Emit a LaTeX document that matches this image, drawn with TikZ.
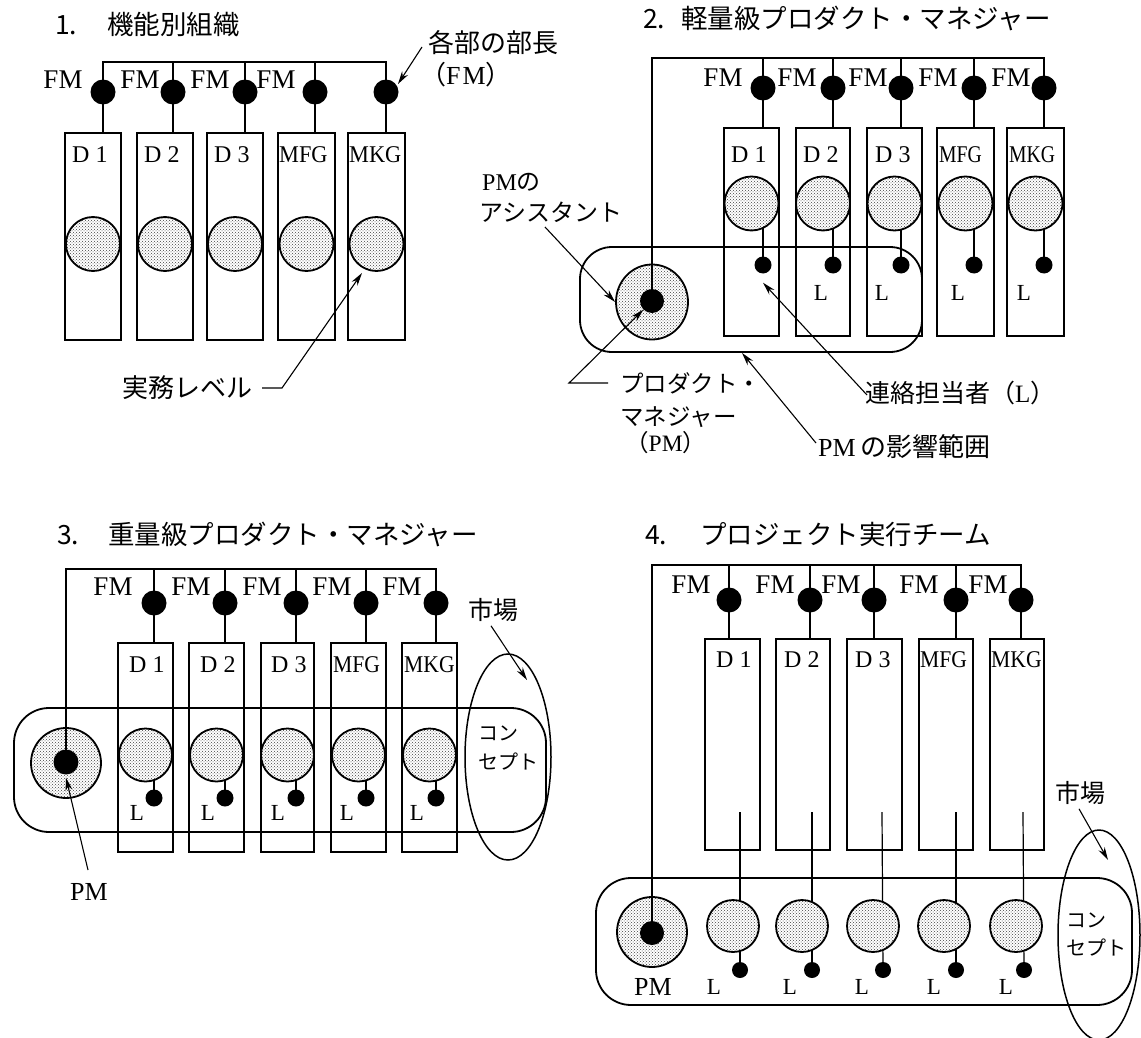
\documentclass[tikz,border=0pt]{standalone}
\usepackage{fontspec}
\usepackage{graphicx}
\setmainfont{Liberation Serif}
\newfontfamily\jp{Noto Sans CJK JP}
\usetikzlibrary{arrows.meta,shapes.geometric,backgrounds,patterns}
\begin{document}
\begin{tikzpicture}[x=1pt,y=-1pt,
  conn/.style={line width=1.2pt},
  bus/.style={line width=1.3pt},
  fmdot/.style={circle, fill=black, draw=none, inner sep=0pt, minimum size=25pt},
  ldot/.style={circle, fill=black, draw=none, inner sep=0pt, minimum size=17pt},
  pmdot/.style={circle, fill=black, draw=none, inner sep=0pt, minimum size=24pt},
  dept/.style={draw, line width=1.8pt, inner sep=0pt},
  work/.style={circle, draw, line width=1.8pt, preaction={fill=white}, pattern=crosshatch dots, pattern color=black!75, inner sep=0pt},
  infl/.style={draw, line width=1.8pt, rounded corners=32pt, inner sep=0pt},
  mkt/.style={ellipse, draw, line width=1.5pt, inner sep=0pt},
  fmlab/.style={font=\fontsize{27}{27}\selectfont, inner sep=0pt},
  dlab/.style={font=\fontsize{24}{24}\selectfont, inner sep=0pt, anchor=west},
  llab/.style={font=\fontsize{23}{23}\selectfont, inner sep=0pt},
  jlab/.style={font=\fontsize{25}{25}\selectfont\jp, inner sep=0pt},
  jsm/.style={font=\fontsize{20}{20}\selectfont\jp, inner sep=0pt, anchor=west},
  ttl/.style={font=\fontsize{26.5}{26.5}\selectfont\jp, inner sep=0pt, anchor=west},
  arr/.style={line width=1.1pt, -{Stealth[length=13pt,width=7pt]}},
]
\begin{pgfonlayer}{background}
  \fill[white] (0,0) rectangle (1141,1038);
\end{pgfonlayer}
\useasboundingbox (0,0) rectangle (1141,1038);

% ================= Panel 1 =================
\node[ttl] (t1) at (55,25) {1.\hspace{30pt}機能別組織};
\foreach \i/\x in {1/103,2/173,3/245,4/315,5/386}{
  \node[fmdot] (p1f\i) at (\x,92) {};
  \coordinate (p1t\i) at (\x,62);
}
\foreach \i/\x/\w in {1/93/56,2/165/56,3/235/56,4/306.5/57,5/376.5/57}{
  \node[dept, minimum width=\w pt, minimum height=207pt] (p1b\i) at (\x,236.5) {};
  \node[work, minimum size=54pt] (p1c\i) at (\x,244) {};
}
\node[dlab] (p1d1) at (72,155) {D 1};
\node[dlab] (p1d2) at (144,155) {D 2};
\node[dlab] (p1d3) at (214,155) {D 3};
\node[dlab] (p1d4) at (279,155) {\scalebox{0.93}[1]{MFG}};
\node[dlab] (p1d5) at (349,155) {\scalebox{0.93}[1]{MKG}};
\foreach \i/\x in {1/63,2/140,3/210,4/276}
  \node[fmlab] (p1fm\i) at (\x,80) {FM};
\draw[bus] (p1f1.center) -- (p1t1) -- (p1t5) -- (p1f5.center);
\foreach \i in {2,3,4} \draw[bus] (p1t\i) -- (p1f\i.center);
\foreach \i in {1,...,5} \draw[conn] (p1f\i.center) -- (p1f\i.center |- p1b\i.north);
\node[jlab, anchor=west, font=\fontsize{26}{26}\selectfont\jp] (p1bu) at (428,43) {各部の部長};
\node[jlab, anchor=west, font=\fontsize{26}{26}\selectfont\jp] (p1bfm) at (420,75) {（{\rmfamily F\kern2pt M}）};
\coordinate (p1a) at (422,47);
\draw[arr] (p1a) -- ([xshift=12pt,yshift=8pt]p1f5.center);
\node[jlab, font=\fontsize{26}{26}\selectfont\jp] (p1jm) at (187,388) {実務レベル};
\coordinate (p1k) at (282,388);
\coordinate (p1kt) at (362,273);
\draw[arr] ([xshift=10pt]p1jm.east) -- (p1k) -- (p1kt);

% ================= Panel 2 =================
\node[ttl] (t2) at (643,18) {2.\hspace{16pt}軽量級プロダクト・マネジャー};
\foreach \i/\x in {1/763,2/833,3/901,4/974,5/1044}{
  \node[fmdot] (p2f\i) at (\x,88) {};
  \coordinate (p2t\i) at (\x,58);
  \node[ldot] (p2s\i) at (\x,265) {};
}
\coordinate (p2t0) at (652,58);
\foreach \i/\x/\w in {1/751.5/55,2/823/54,3/894.5/55,4/965.5/57,5/1035.5/57}{
  \node[dept, minimum width=\w pt, minimum height=208pt] (p2b\i) at (\x,232) {};
  \node[work, minimum size=54pt] (p2c\i) at (\x,203.5) {};
}
\begin{pgfonlayer}{background}
  \foreach \i in {1,...,5} \draw[conn] (p2s\i.center) -- (p2s\i.center |- p2c\i.center);
\end{pgfonlayer}
\node[dlab] (p2d1) at (731,155) {D 1};
\node[dlab] (p2d2) at (803,155) {D 2};
\node[dlab] (p2d3) at (875,155) {D 3};
\node[dlab] (p2d4) at (939,155) {\scalebox{0.82}[1]{MFG}};
\node[dlab] (p2d5) at (1009,155) {\scalebox{0.82}[1]{MKG}};
\foreach \i/\x in {1/723,2/797,3/868,4/938,5/1011}
  \node[fmlab] (p2fm\i) at (\x,78) {FM};
\foreach \i/\x in {2/821,3/882,4/958,5/1024}
  \node[llab] (p2l\i) at (\x,293) {L};
\node[infl, minimum width=342pt, minimum height=105pt] (p2inf) at (751,299.5) {};
\node[work, ellipse, minimum width=72pt, minimum height=75pt] (p2pmc) at (652,302) {};
\node[pmdot] (p2pm) at (652,301) {};
\draw[bus] (p2pm.center) -- (p2t0) -- (p2t5) -- (p2f5.center);
\foreach \i in {1,...,4} \draw[bus] (p2t\i) -- (p2f\i.center);
\foreach \i in {1,...,5} \draw[conn] (p2f\i.center) -- (p2f\i.center |- p2b\i.north);
\node[jlab, anchor=west, font=\fontsize{24}{24}\selectfont\jp] (p2asa) at (482,182) {{\rmfamily PM}の};
\node[jlab, anchor=west, font=\fontsize{24}{24}\selectfont\jp] (p2asb) at (479,212) {アシスタント};
\coordinate (p2asc) at (545,227);
\draw[arr] (p2asc) -- (p2pmc.west);
\node[jlab, anchor=west, font=\fontsize{23.5}{23.5}\selectfont\jp] (p2pl1) at (620,383) {プロダクト・};
\node[jlab, anchor=west, font=\fontsize{23.5}{23.5}\selectfont\jp] (p2pl2) at (620,417) {マネジャー};
\node[jlab, anchor=west, font=\fontsize{23.5}{23.5}\selectfont\jp] (p2pl3) at (625,443) {（{\rmfamily PM}）};
\coordinate (p2q1) at (569,383);
\draw[arr] ([xshift=-12pt]p2pl1.west) -- (p2q1) -- (p2pm.south west);
\node[jlab, anchor=west, font=\fontsize{26}{26}\selectfont\jp] (p2infl) at (818,447) {{\rmfamily PM}\hspace{5pt}の影響範囲};
\draw[arr] ([xshift=-2pt,yshift=4pt]p2infl.west) -- ([xshift=-9pt]p2inf.south);
\node[jlab, anchor=west, font=\fontsize{25}{25}\selectfont\jp] (p2ren) at (865,393) {連絡担当者（{\rmfamily L}）};
\draw[arr] ([xshift=2pt,yshift=-2pt]p2ren.west) -- ([yshift=-9pt]p2s1.south);

% ================= Panel 3 =================
\node[ttl] (t3) at (57,534) {3.\hspace{29pt}重量級プロダクト・マネジャー};
\foreach \i/\x in {1/154,2/225,3/296,4/366,5/436}{
  \node[fmdot] (p3f\i) at (\x,603) {};
  \coordinate (p3t\i) at (\x,569);
  \node[ldot] (p3s\i) at (\x,798) {};
}
\coordinate (p3t0) at (66,569);
\foreach \i/\x/\w in {1/145.5/55,2/216.5/55,3/287.5/53,4/358.5/55,5/429.5/55}{
  \node[dept, minimum width=\w pt, minimum height=209pt] (p3b\i) at (\x,747.5) {};
  \node[work, minimum size=53pt] (p3c\i) at (\x,755) {};
}
\begin{pgfonlayer}{background}
  \foreach \i in {1,...,5} \draw[conn] (p3s\i.center) -- (p3s\i.center |- p3c\i.center);
\end{pgfonlayer}
\node[dlab] (p3d1) at (129,665) {D 1};
\node[dlab] (p3d2) at (200,665) {D 2};
\node[dlab] (p3d3) at (271,665) {D 3};
\node[dlab] (p3d4) at (333,665) {\scalebox{0.9}[1]{MFG}};
\node[dlab] (p3d5) at (404,665) {\scalebox{0.9}[1]{MKG}};
\foreach \i/\x in {1/113,2/191,3/262,4/332,5/402}
  \node[fmlab] (p3fm\i) at (\x,587) {FM};
\foreach \i/\x in {1/137,2/208,3/278,4/347,5/417}
  \node[llab] (p3l\i) at (\x,813) {L};
\node[infl, rounded corners=35pt, minimum width=532pt, minimum height=124pt] (p3inf) at (280,770) {};
\node[work, minimum size=70pt] (p3pmc) at (66,763) {};
\node[pmdot, minimum size=25pt] (p3pm) at (66,762) {};
\draw[bus] (p3pm.center) -- (p3t0) -- (p3t5) -- (p3f5.center);
\foreach \i in {1,...,4} \draw[bus] (p3t\i) -- (p3f\i.center);
\foreach \i in {1,...,5} \draw[conn] (p3f\i.center) -- (p3f\i.center |- p3b\i.north);
\node[jlab, font=\fontsize{26}{26}\selectfont] (p3pml) at (89,892) {PM};
\coordinate (p3pma) at (88,870);
\draw[arr] (p3pma) -- ([yshift=-3pt]p3pm.south);
\node[mkt, minimum width=86pt, minimum height=206pt] (p3mkt) at (508,757) {};
\node[jlab] (p3ich) at (493,610) {市場};
\draw[arr] ([xshift=-2pt,yshift=-4pt]p3ich.south) -- (527,680);
\node[jsm] (p3ko) at (478,733) {コン};
\node[jsm] (p3se) at (478,762) {セプト};

% ================= Panel 4 =================
\node[ttl] (t4) at (645,534) {4.\hspace{33pt}プロジェクト実行チーム};
\foreach \i/\x/\u/\s in {1/729/740/740,2/810/812/812,3/874/882/883,4/956/956/956,5/1021/1023/1024}{
  \node[fmdot] (p4f\i) at (\x,600) {};
  \coordinate (p4t\i) at (\x,565);
  \coordinate (p4u\i) at (\u,812);
  \node[ldot, minimum size=16pt] (p4s\i) at (\s,970) {};
}
\coordinate (p4t0) at (652,565);
\foreach \i/\x/\w in {1/732.5/55,2/803/54,3/874.5/55,4/946/54,5/1017/54}{
  \node[dept, minimum width=\w pt, minimum height=211pt] (p4b\i) at (\x,744.5) {};
}
\foreach \i/\x in {1/733,2/802,3/873,4/944,5/1016}{
  \node[work, minimum size=52pt] (p4c\i) at (\x,926) {};
}
\begin{pgfonlayer}{background}
  \foreach \i in {1,...,5} \draw[conn] (p4u\i) -- (p4s\i.center);
\end{pgfonlayer}
\node[dlab] (p4d1) at (716,660) {D 1};
\node[dlab] (p4d2) at (784,660) {D 2};
\node[dlab] (p4d3) at (855,660) {D 3};
\node[dlab] (p4d4) at (920,660) {\scalebox{0.9}[1]{MFG}};
\node[dlab] (p4d5) at (991,660) {\scalebox{0.9}[1]{MKG}};
\foreach \i/\x in {1/691,2/775,3/841,4/919,5/988}
  \node[fmlab] (p4fm\i) at (\x,585) {FM};
\foreach \i/\x in {1/714,2/790,3/862,4/934,5/1006}
  \node[llab] (p4l\i) at (\x,987) {L};
\node[infl, rounded corners=35pt, minimum width=536pt, minimum height=127pt] (p4inf) at (864,941.5) {};
\node[work, minimum size=70pt] (p4pmc) at (652,932) {};
\node[pmdot] (p4pm) at (652,933) {};
\draw[bus] (p4pm.center) -- (p4t0) -- (p4t5) -- (p4f5.center);
\foreach \i in {1,...,4} \draw[bus] (p4t\i) -- (p4f\i.center);
\foreach \i in {1,...,5} \draw[conn] (p4f\i.center) -- (p4f\i.center |- p4b\i.north);
\node[jlab, font=\fontsize{26}{26}\selectfont] (p4pml) at (653,987) {PM};
\node[mkt, minimum width=82pt, minimum height=210pt] (p4mkt) at (1099,935) {};
\node[jlab] (p4ich) at (1080,793) {市場};
\draw[arr] ([xshift=-1pt,yshift=-4pt]p4ich.south) -- (1108,860);
\node[jsm] (p4ko) at (1066,920) {コン};
\node[jsm] (p4se) at (1066,948) {セプト};
\end{tikzpicture}
\end{document}
